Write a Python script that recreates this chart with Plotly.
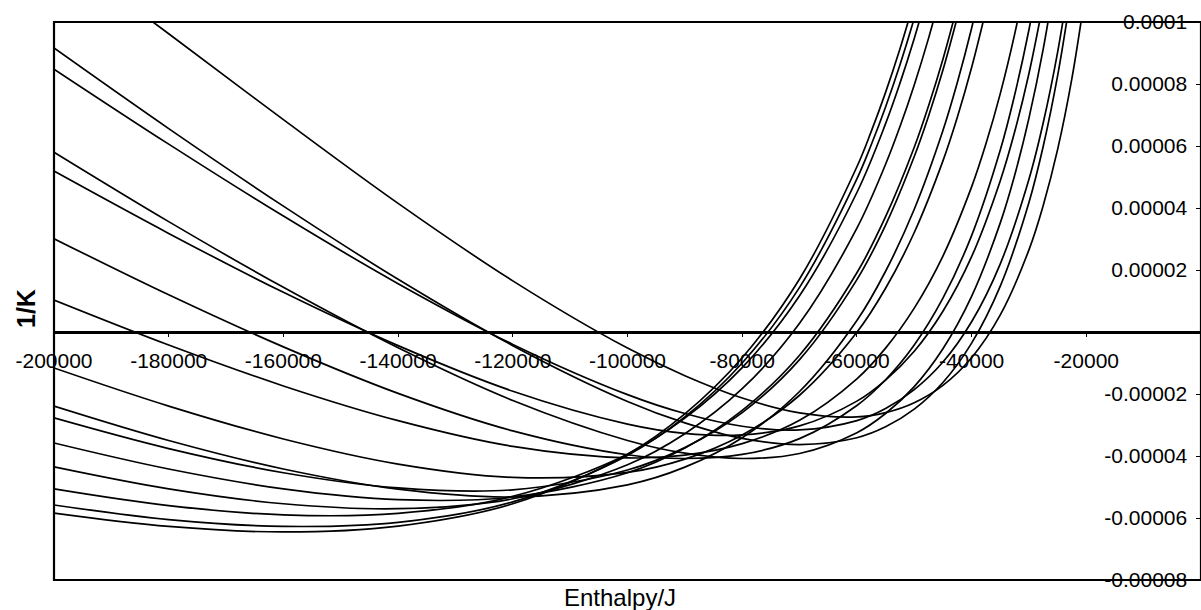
import plotly.graph_objects as go

# ---- data (enthalpy in kJ, 1/K in units of 1e-5) ----
h_c01 = [-190, -180, -160, -140, -120, -100, -90, -80, -70, -60, -55, -50, -45, -40, -35, -30, -27.5, -25, -22.5, -20]
k_c01 = [11.00, 9.62, 6.85, 4.15, 1.65, -0.52, -1.41, -2.13, -2.61, -2.74, -2.60, -2.28, -1.72, -0.83, 0.55, 2.65, 4.09, 5.89, 8.19, 11.15]

h_c02 = [-200, -180, -160, -140, -120, -100, -90, -80, -70, -60, -55, -50, -45, -40, -35, -30, -27.5, -25, -22.5]
k_c02 = [9.16, 6.56, 4.06, 1.70, -0.44, -2.24, -2.93, -3.43, -3.63, -3.41, -3.06, -2.49, -1.63, -0.36, 1.48, 4.18, 6.00, 8.27, 11.11]

h_c03 = [-200, -180, -160, -140, -120, -100, -90, -80, -70, -60, -55, -50, -45, -40, -35, -30, -27.5, -25, -22.5]
k_c03 = [8.48, 6.06, 3.74, 1.56, -0.40, -2.02, -2.63, -3.04, -3.16, -2.86, -2.47, -1.86, -0.97, 0.33, 2.20, 4.93, 6.76, 9.03, 11.88]

h_c04 = [-200, -180, -160, -140, -120, -100, -90, -80, -70, -60, -55, -50, -45, -40, -35, -32.5, -30, -27.5, -25]
k_c04 = [5.80, 3.56, 1.44, -0.51, -2.21, -3.50, -3.91, -4.08, -3.92, -3.25, -2.63, -1.76, -0.54, 1.15, 3.52, 5.05, 6.90, 9.14, 11.91]

h_c05 = [-200, -180, -160, -140, -120, -100, -90, -80, -70, -60, -55, -50, -45, -40, -35, -32.5, -30, -27.5]
k_c05 = [5.19, 3.18, 1.28, -0.44, -1.91, -2.97, -3.27, -3.32, -3.03, -2.23, -1.55, -0.62, 0.67, 2.43, 4.88, 6.45, 8.34, 10.63]

h_c06 = [-200, -180, -160, -140, -120, -100, -90, -80, -70, -60, -55, -50, -45, -40, -35, -32.5, -30, -27.5]
k_c06 = [3.01, 1.20, -0.48, -1.98, -3.19, -3.96, -4.08, -3.95, -3.44, -2.37, -1.54, -0.42, 1.09, 3.11, 5.87, 7.64, 9.75, 12.30]

h_c07 = [-200, -180, -160, -140, -120, -100, -90, -80, -70, -60, -55, -50, -45, -40, -37.5, -35, -32.5, -30]
k_c07 = [1.03, -0.42, -1.74, -2.86, -3.69, -4.06, -3.97, -3.60, -2.85, -1.51, -0.52, 0.77, 2.45, 4.68, 6.07, 7.69, 9.60, 11.86]

h_c08 = [-200, -180, -160, -140, -120, -100, -90, -80, -70, -60, -55, -50, -45, -42.5, -40, -37.5]
k_c08 = [-1.16, -2.39, -3.45, -4.26, -4.69, -4.53, -4.10, -3.32, -2.04, -0.01, 1.41, 3.21, 5.52, 6.92, 8.53, 10.38]

h_c09 = [-200, -180, -160, -140, -120, -100, -90, -80, -70, -60, -55, -50, -45, -42.5, -40, -37.5]
k_c09 = [-2.39, -3.50, -4.42, -5.07, -5.32, -4.93, -4.36, -3.41, -1.92, 0.37, 1.96, 3.96, 6.50, 8.04, 9.80, 11.82]

h_c10 = [-200, -180, -160, -140, -120, -100, -90, -80, -70, -60, -55, -50, -47.5, -45, -42.5]
k_c10 = [-2.77, -3.76, -4.54, -5.03, -5.09, -4.45, -3.73, -2.60, -0.89, 1.69, 3.45, 5.66, 6.97, 8.45, 10.14]

h_c11 = [-200, -180, -160, -140, -120, -100, -90, -80, -70, -60, -55, -50, -47.5, -45, -42.5]
k_c11 = [-3.58, -4.42, -5.06, -5.41, -5.32, -4.54, -3.74, -2.53, -0.75, 1.91, 3.72, 5.96, 7.30, 8.80, 10.51]

h_c12 = [-200, -180, -160, -140, -120, -100, -90, -80, -70, -60, -55, -52.5, -50, -47.5, -45]
k_c12 = [-4.35, -5.06, -5.54, -5.70, -5.38, -4.28, -3.28, -1.83, 0.28, 3.35, 5.41, 6.62, 7.97, 9.48, 11.18]

h_c13 = [-200, -180, -160, -140, -120, -100, -90, -80, -70, -60, -55, -52.5, -50, -47.5]
k_c13 = [-5.06, -5.60, -5.90, -5.85, -5.30, -3.94, -2.78, -1.15, 1.17, 4.50, 6.72, 8.02, 9.47, 11.08]

h_c14 = [-200, -180, -160, -140, -120, -100, -90, -80, -70, -60, -57.5, -55, -52.5, -50, -47.5]
k_c14 = [-5.58, -6.05, -6.27, -6.14, -5.48, -3.98, -2.74, -1.00, 1.44, 4.94, 6.04, 7.26, 8.61, 10.12, 11.81]

h_c15 = [-200, -180, -160, -140, -120, -100, -90, -80, -70, -60, -57.5, -55, -52.5, -50]
k_c15 = [-5.84, -6.27, -6.45, -6.26, -5.54, -3.94, -2.64, -0.83, 1.71, 5.33, 6.47, 7.73, 9.13, 10.68]

curves_h = [h_c01, h_c02, h_c03, h_c04, h_c05, h_c06, h_c07, h_c08,
            h_c09, h_c10, h_c11, h_c12, h_c13, h_c14, h_c15]
curves_k = [k_c01, k_c02, k_c03, k_c04, k_c05, k_c06, k_c07, k_c08,
            k_c09, k_c10, k_c11, k_c12, k_c13, k_c14, k_c15]

x_tickvals = [-200000, -180000, -160000, -140000, -120000, -100000, -80000, -60000, -40000, -20000]
x_ticktext = ["-200000", "-180000", "-160000", "-140000", "-120000", "-100000", "-80000", "-60000", "-40000", "-20000"]
y_tickvals = [-0.00008, -0.00006, -0.00004, -0.00002, 0.00002, 0.00004, 0.00006, 0.00008, 0.0001]
y_ticktext = ["-0.00008", "-0.00006", "-0.00004", "-0.00002", "0.00002", "0.00004", "0.00006", "0.00008", "0.0001"]

x_title = "Enthalpy/J"
y_title = "1/K"

# ---- figure ----
fig = go.Figure()
for hs, ks in zip(curves_h, curves_k):
    fig.add_trace(go.Scatter(
        x=[h * 1000 for h in hs],
        y=[k * 1e-5 for k in ks],
        mode="lines",
        line=dict(color="black", width=1.7, shape="spline", smoothing=1.0),
        hoverinfo="skip",
    ))

font_tick = dict(family="Liberation Sans, Arial, sans-serif", size=21, color="black")

fig.update_layout(
    width=1201, height=610,
    margin=dict(l=54, r=0, t=22, b=30),
    paper_bgcolor="white", plot_bgcolor="white",
    showlegend=False,
    xaxis=dict(
        range=[-200000, 0], anchor="free", position=0.8 / 1.8,
        showline=True, linecolor="black", linewidth=2.5,
        ticks="outside", ticklen=3, tickcolor="black", tickwidth=1,
        tickvals=x_tickvals, ticktext=x_ticktext, tickfont=font_tick,
        ticklabelstandoff=6,
        showgrid=False, zeroline=False,
    ),
    yaxis=dict(
        range=[-0.00008, 0.0001], side="right",
        showline=True, linecolor="black", linewidth=2,
        ticks="inside", ticklen=5, tickcolor="black",
        ticklabelposition="inside", ticklabeloverflow="allow",
        ticklabelstandoff=10,
        tickvals=y_tickvals, ticktext=y_ticktext, tickfont=font_tick,
        showgrid=False, zeroline=False,
    ),
    shapes=[dict(type="rect", xref="paper", yref="paper", x0=0, y0=0, x1=1, y1=1,
                 line=dict(color="black", width=2.2), layer="above")],
    annotations=[
        dict(text=x_title, xref="paper", yref="paper", x=0.4935, y=-0.031,
             xanchor="center", yanchor="middle", showarrow=False,
             font=dict(family="Liberation Sans, Arial, sans-serif", size=24, color="black")),
        dict(text="<b>" + y_title + "</b>", xref="paper", yref="paper", x=-0.0244, y=0.4857,
             xanchor="center", yanchor="middle", textangle=-90, showarrow=False,
             font=dict(family="Liberation Sans, Arial, sans-serif", size=25, color="black")),
    ],
)

fig.write_html("out.html")
